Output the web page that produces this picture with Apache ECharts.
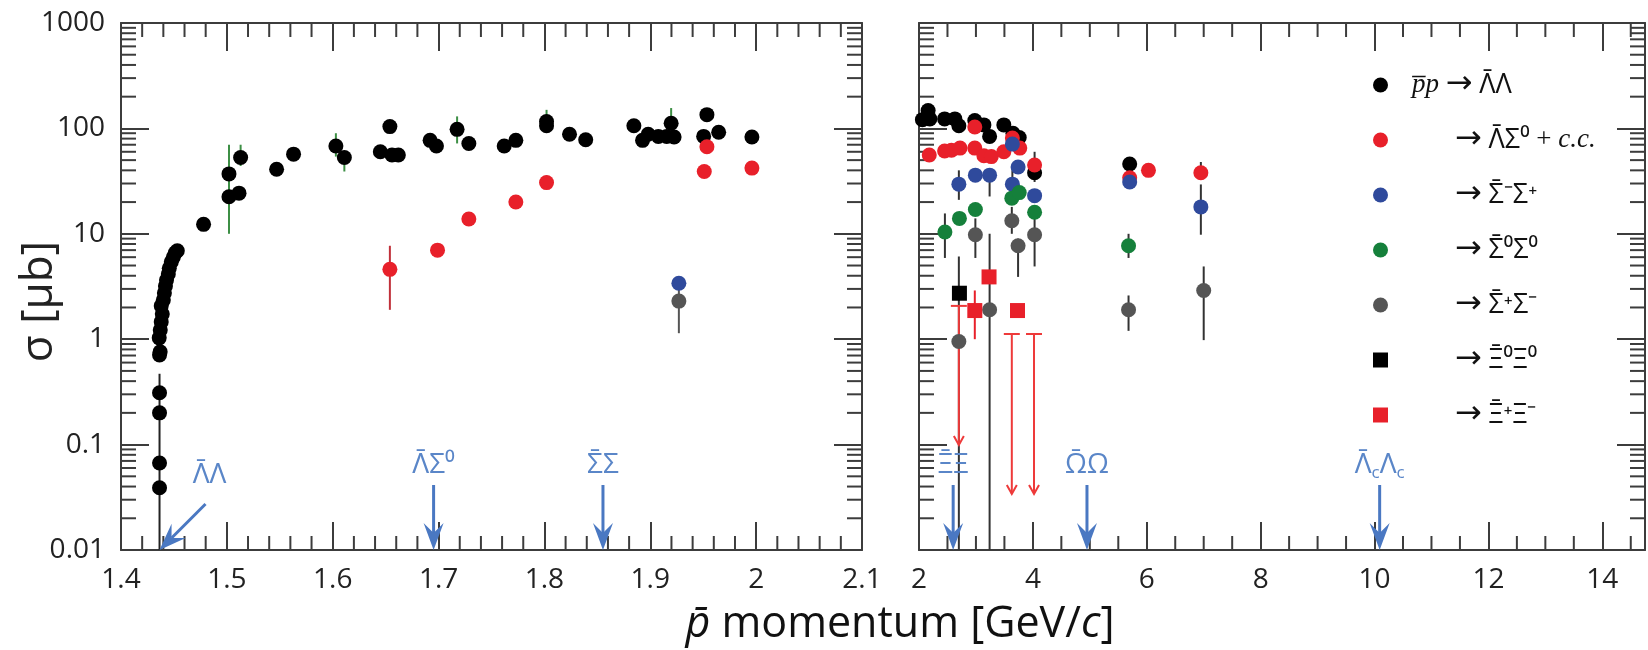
<!DOCTYPE html>
<html>
<head>
<meta charset="utf-8">
<script src="https://cdn.jsdelivr.net/npm/echarts@6/dist/echarts.min.js"></script>
<style>html,body{margin:0;background:#fff}#main{width:1648px;height:650px}</style>
</head>
<body>
<div id="main"></div>
<script>
// cross sections [μb] vs antiproton momentum [GeV/c], pairs [p, sigma]
var lamLam=[[1.4364,0.039],[1.4364,0.067],[1.4364,0.20],[1.4364,0.31],[1.4364,0.71],[1.437,0.76],
 [1.4361,1.03],[1.4371,1.22],[1.438,1.46],[1.439,1.73],[1.438,2.07],[1.440,2.35],[1.441,2.74],[1.442,3.2],
 [1.443,3.65],[1.4447,4.16],[1.4456,4.7],[1.4475,5.4],[1.4494,6.0],[1.4513,6.6],[1.4532,6.9],
 [1.478,12.3],[1.502,37],[1.502,22.5],[1.5115,24.3],[1.513,53],[1.547,41],[1.563,57],[1.603,68],[1.611,53],
 [1.645,60],[1.654,104],[1.656,56],[1.662,56],[1.692,77],[1.698,68],[1.7175,98],[1.7286,72],[1.762,68],
 [1.773,77],[1.802,116],[1.802,106],[1.8237,88],[1.839,78],[1.8845,106],[1.8927,77],[1.898,88],[1.9076,84],
 [1.9155,84],[1.9197,112],[1.9225,83],[1.9504,84],[1.9535,135],[1.9646,92],[1.996,83],
 [2.06,121],[2.16,148],[2.19,123],[2.45,123],[2.63,123],[2.70,106],[2.98,119],[3.14,108],[3.24,84],
 [3.49,108],[3.65,90],[3.76,82],[4.03,38],[5.70,46]];
var lamSig0=[[1.654,4.6],[1.699,7.0],[1.7286,13.8],[1.773,20],[1.802,30.6],[1.951,39],[1.9535,67],[1.996,42],
 [2.18,56],[2.45,61],[2.57,62],[2.72,65],[2.98,103],[2.98,65],[3.14,55],[3.27,54],[3.49,60],[3.64,81],
 [3.77,65],[4.03,45],[5.70,34],[6.03,40],[6.95,38]];
var sigMinusPlus=[[1.927,3.4],[2.70,29.6],[2.99,36],[3.24,36],[3.64,71],[3.64,29.6],[3.74,43],[4.03,23],[5.70,31],[6.95,18]];
var sig0Sig0=[[2.455,10.4],[2.71,14],[2.99,17],[3.63,21.8],[3.76,24.6],[4.03,16],[5.68,7.7]];
var sigPlusMinus=[[1.927,2.3],[2.70,0.95],[2.99,9.8],[3.24,1.9],[3.63,13.3],[3.74,7.7],[4.03,9.8],[5.68,1.9],[7.0,2.9]];
var xi0Xi0=[[2.71,2.73]];
var xiPlusMinus=[[2.98,1.87],[3.23,3.9],[3.73,1.87]];

// error bars [p, low, high]
var lamLamErr=[[1.502,10,70],[1.513,44,70],[1.603,54,90],[1.611,39,59],[1.7175,72,130],[1.802,91,150],[1.9197,101,156],[4.03,31,60]];
var lamLamThrErr=[[1.4364,0.01,0.47]];
var lamSig0Err=[[1.654,1.9,7.7],[1.802,27,36],[6.95,36,48]];
var sigMinusPlusErr=[[2.70,21,40],[3.24,22.6,36],[3.64,22,40],[6.95,9.8,29.4]];
var sig0Sig0Err=[[2.455,5.9,15.6],[5.68,5.9,10]];
var sigPlusMinusErr=[[1.927,1.14,3.4],[2.70,0.01,6.1],[2.99,5.9,14],[3.24,0.01,10],[3.63,10,18],[3.74,3.9,9],[4.03,4.9,14],[5.68,1.2,2.6],[7.0,0.98,4.9]];
var xiPlusMinusErr=[[2.98,1.0,2.9]];
// upper limits [p, limit, arrow tip]
var xiLimits=[[2.70,2.07,0.099],[3.63,1.12,0.034],[4.02,1.12,0.034]];

// thresholds
var thrLeftP=[1.4364,1.6953,1.8553];
var thrLeftLabel=['Λ\u0304Λ','Λ\u0304Σ⁰','Σ\u0304Σ'];
var thrRightP=[2.60,4.95,10.09];
var thrRightLabel=['Ξ\u0304Ξ','Ω\u0304Ω','Λ\u0304{s|c}Λ{s|c}'];

var yDecades=[0.01,0.1,1,10,100];
var legendNames=['LL','LS0','SmSp','S0S0','SpSm','X0X0','XpXm'];
var legendText=['{s1| }{i|p\u0305p} {a|→} {g|Λ\u0304Λ}','{s2| }{a|→} {g|Λ\u0304Σ⁰} + {i|c.c.}','{s2| }{a|→} {g|Σ\u0304⁻Σ⁺}',
 '{s2| }{a|→} {g|Σ\u0304⁰Σ⁰}','{s2| }{a|→} {g|Σ\u0304⁺Σ⁻}','{s2| }{a|→} {g|Ξ\u0304⁰Ξ⁰}','{s2| }{a|→} {g|Ξ\u0304⁺Ξ⁻}'];

var SPLIT=2.02;
var axisCol='#3c3c3c', blue='#4a78c2';
function leftOf(d){return d.filter(function(v){return v[0]<SPLIT;});}
function rightOf(d){return d.filter(function(v){return v[0]>=SPLIT;});}

var chart=echarts.init(document.getElementById('main'));

function xAx(grid,pos,min,max,intv,fmt){
  return {type:'value',gridIndex:grid,position:pos,min:min,max:max,interval:intv,
    axisLine:{show:true,onZero:false,lineStyle:{color:axisCol,width:2}},
    axisTick:{show:true,inside:true,length:28,lineStyle:{color:axisCol,width:2}},
    splitLine:{show:false},
    axisLabel:{show:!!fmt,margin:16,fontSize:28,fontFamily:'Open Sans',color:'#222',formatter:fmt}};
}
function yAx(grid,pos,labels){
  var a={type:'log',logBase:10,gridIndex:grid,position:pos,min:0.01,max:1000,
    axisLine:{show:true,onZero:false,lineStyle:{color:axisCol,width:2}},
    axisTick:{show:true,inside:true,length:28,lineStyle:{color:axisCol,width:2}},
    splitLine:{show:false},
    axisLabel:{show:labels,margin:16,fontSize:28,fontFamily:'Open Sans',color:'#222',
      formatter:function(v){return String(+(+v).toPrecision(3));}}};
  if(labels){
    a.name='σ [μb]';a.nameLocation='middle';a.nameRotate=90;a.nameGap=60;a.nameMoveOverlap=false;
    a.nameTextStyle={fontSize:44,fontFamily:'Open Sans',color:'#222',padding:[0,30,0,0]};
  }
  return a;
}

// minor ticks
var yMinor=[];
yDecades.forEach(function(d){for(var k=2;k<=9;k++)yMinor.push(+(k*d).toPrecision(3));});
var xMinorLeft=[],xMinorRight=[];
for(var i=0;i<=35;i++){if(i%5)xMinorLeft.push(+(1.4+i*0.02).toFixed(2));}
for(var j=0;j<=25;j++){if(j%4)xMinorRight.push(2+j*0.5);}

function tickLine(x1,y1,x2,y2){return {type:'line',shape:{x1:x1,y1:y1,x2:x2,y2:y2},style:{stroke:axisCol,lineWidth:2}};}
function yMinorItem(params,api){
  var cs=params.coordSys, y=api.coord([api.value(0),api.value(1)])[1];
  return {type:'group',children:[tickLine(cs.x,y,cs.x+15,y),tickLine(cs.x+cs.width,y,cs.x+cs.width-15,y)]};
}
function xMinorItem(params,api){
  var cs=params.coordSys, x=api.coord([api.value(0),api.value(1)])[0];
  return {type:'group',children:[tickLine(x,cs.y+cs.height,x,cs.y+cs.height-14),tickLine(x,cs.y,x,cs.y+14)]};
}
function errItem(params,api){
  var a=api.coord([api.value(0),api.value(1)]), b=api.coord([api.value(0),api.value(2)]);
  return {type:'line',shape:{x1:a[0],y1:a[1],x2:b[0],y2:b[1]},style:{stroke:api.visual('color'),lineWidth:2}};
}
function limitItem(params,api){
  var a=api.coord([api.value(0),api.value(1)]), b=api.coord([api.value(0),api.value(2)]), c=api.visual('color');
  return {type:'group',children:[
    {type:'line',shape:{x1:a[0]-8,y1:a[1],x2:a[0]+8,y2:a[1]},style:{stroke:c,lineWidth:2}},
    {type:'line',shape:{x1:a[0],y1:a[1],x2:b[0],y2:b[1]},style:{stroke:c,lineWidth:2}},
    {type:'polyline',shape:{points:[[b[0]-5,b[1]-9],[b[0],b[1]],[b[0]+5,b[1]-9]]},style:{stroke:c,lineWidth:2,fill:'none'}}]};
}
function arrow(x1,y1,x2,y2){
  var dx=x2-x1,dy=y2-y1,L=Math.sqrt(dx*dx+dy*dy),ux=dx/L,uy=dy/L,px=-uy,py=ux;
  var bx=x2-ux*27,by=y2-uy*27,nx=x2-ux*17,ny=y2-uy*17;
  return [{type:'line',shape:{x1:x1,y1:y1,x2:nx,y2:ny},style:{stroke:blue,lineWidth:3}},
    {type:'polygon',shape:{points:[[x2,y2],[bx+px*10,by+py*10],[nx,ny],[bx-px*10,by-py*10]]},style:{fill:blue}}];
}
function thrItem(labels,diagFirst){
  return function(params,api){
    var i=params.dataIndex, cs=params.coordSys;
    var x=api.coord([api.value(0),api.value(1)])[0], bottom=cs.y+cs.height;
    var diag=diagFirst&&i===0;
    var parts=diag?arrow(x+46,bottom-46,x,bottom):arrow(x,bottom-65,x,bottom);
    parts.push({type:'text',x:diag?x+50:x,y:diag?bottom-58:bottom-68,
      style:{text:labels[i],fontSize:28,fontFamily:'Open Sans',fill:'#5a86c8',align:'center',verticalAlign:'bottom',
        lineHeight:34,rich:{s:{fontSize:17,fontFamily:'Open Sans',fill:'#5a86c8',lineHeight:34,verticalAlign:'bottom'}}}});
    return {type:'group',children:parts};
  };
}

var series=[];
function decor(grid,data,fn){
  series.push({type:'custom',silent:true,xAxisIndex:grid*2,yAxisIndex:grid*2,renderItem:fn,data:data,z:1});
}
decor(0,yMinor.map(function(v){return [1.4,v];}),yMinorItem);
decor(1,yMinor.map(function(v){return [2,v];}),yMinorItem);
decor(0,xMinorLeft.map(function(v){return [v,0.01];}),xMinorItem);
decor(1,xMinorRight.map(function(v){return [v,0.01];}),xMinorItem);

function errSeries(data,color,grid){
  if(!data.length)return;
  series.push({type:'custom',silent:true,xAxisIndex:grid*2,yAxisIndex:grid*2,renderItem:errItem,
    itemStyle:{color:color},encode:{x:0,y:[1,2]},data:data,z:2});
}
errSeries(leftOf(lamLamErr),'#3d8f45',0);
errSeries(rightOf(lamLamErr),'#333',1);
errSeries(lamLamThrErr,'#222',0);
errSeries(leftOf(lamSig0Err).slice(0,1),'#c0303a',0);
errSeries(leftOf(lamSig0Err).slice(1),'#5bc8ee',0);
errSeries(rightOf(lamSig0Err),'#333',1);
errSeries(sigMinusPlusErr,'#333',1);
errSeries(sig0Sig0Err,'#333',1);
errSeries(leftOf(sigPlusMinusErr),'#555',0);
errSeries(rightOf(sigPlusMinusErr),'#333',1);
errSeries(xiPlusMinusErr,'#e8202a',1);
series.push({type:'custom',silent:true,xAxisIndex:2,yAxisIndex:2,renderItem:limitItem,
  itemStyle:{color:'#ee3a3a'},encode:{x:0,y:[1,2]},data:xiLimits,z:2});

var sets=[[lamLam,'circle','#000000'],[lamSig0,'circle','#e8202a'],[sigMinusPlus,'circle','#2f4a9c'],
  [sig0Sig0,'circle','#15803b'],[sigPlusMinus,'circle','#555555'],[xi0Xi0,'rect','#000000'],[xiPlusMinus,'rect','#e8202a']];
sets.forEach(function(s,k){
  [leftOf(s[0]),rightOf(s[0])].forEach(function(d,g){
    if(!d.length)return;
    series.push({type:'scatter',name:legendNames[k],xAxisIndex:g*2,yAxisIndex:g*2,data:d,
      symbol:s[1],symbolSize:15,itemStyle:{color:s[2],opacity:1},z:3});
  });
});

series.push({type:'custom',silent:true,xAxisIndex:0,yAxisIndex:0,renderItem:thrItem(thrLeftLabel,true),
  data:thrLeftP.map(function(p){return [p,0.01];}),z:4});
series.push({type:'custom',silent:true,xAxisIndex:2,yAxisIndex:2,renderItem:thrItem(thrRightLabel,false),
  data:thrRightP.map(function(p){return [p,0.01];}),z:4});

var option={
  animation:false,
  backgroundColor:'#fff',
  grid:[{left:121,top:23,width:741,height:527},{left:919,top:23,width:728,height:527}],
  xAxis:[
    xAx(0,'bottom',1.4,2.1,0.1,function(v){return String(+(+v).toFixed(1));}),
    xAx(0,'top',1.4,2.1,0.1,null),
    xAx(1,'bottom',2,14.75,2,function(v){return (Math.abs(v-Math.round(v))<1e-6&&Math.round(v)%2===0)?String(Math.round(v)):'';}),
    xAx(1,'top',2,14.75,2,null)
  ],
  yAxis:[yAx(0,'left',true),yAx(0,'right',false),yAx(1,'left',false),yAx(1,'right',false)],
  legend:{orient:'vertical',left:1368,top:64,itemWidth:15,itemHeight:15,itemGap:23,selectedMode:false,
    data:legendNames,
    formatter:function(n){return legendText[legendNames.indexOf(n)];},
    textStyle:{fontFamily:'Liberation Serif',fontSize:27,color:'#111',lineHeight:30,
      rich:{i:{fontStyle:'italic',fontFamily:'Liberation Serif',fontSize:27,color:'#111'},
        a:{fontFamily:'DejaVu Sans',fontSize:32,color:'#111'},
        g:{fontFamily:'Open Sans',fontSize:27,color:'#111'},
        s1:{width:19,fontSize:27},s2:{width:62,fontSize:27}}}},
  graphic:[{type:'text',x:900,y:625,style:{text:'{i|p\u0304} momentum [GeV/{i|c}]',fontSize:43,fontFamily:'Open Sans',
    fill:'#111',align:'center',verticalAlign:'middle',
    rich:{i:{fontStyle:'italic',fontSize:43,fontFamily:'Open Sans',fill:'#111'}}}}],
  series:series
};
chart.setOption(option);
</script>
</body>
</html>
